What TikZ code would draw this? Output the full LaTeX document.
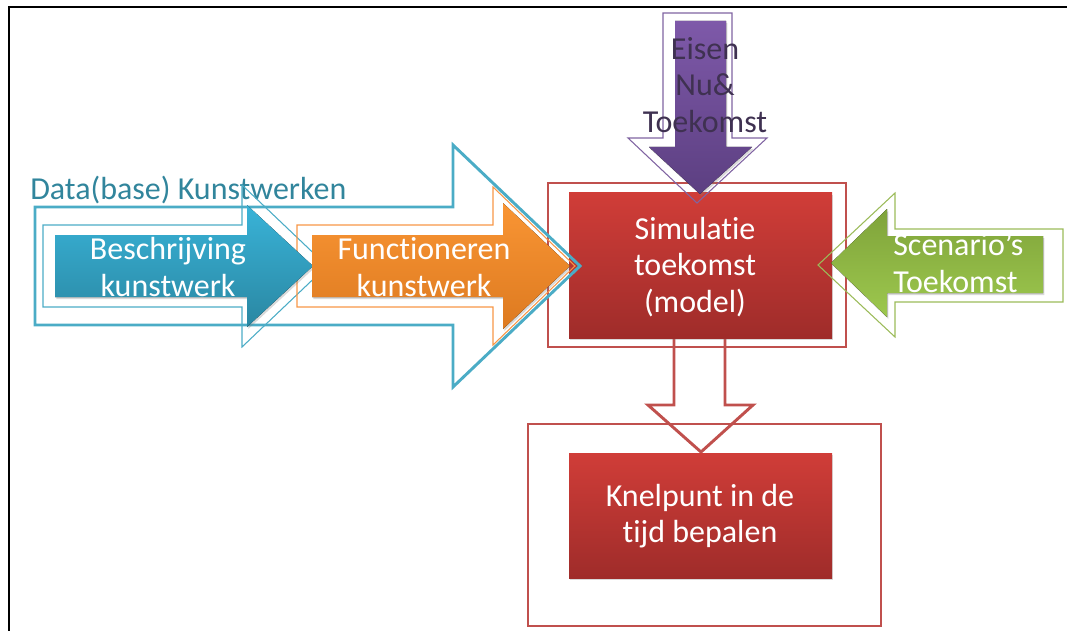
\documentclass[tikz,border=0pt]{standalone}
\usepackage{fontspec}
\setmainfont{Carlito}[Ligatures=NoCommon]
\usepackage{tikz}
\usetikzlibrary{shadows}
\definecolor{blueline}{HTML}{4BACC6}
\definecolor{bluetop}{HTML}{39B3D8}
\definecolor{bluebot}{HTML}{2A87A2}
\definecolor{bluetext}{HTML}{31859C}
\definecolor{orangeline}{HTML}{F79646}
\definecolor{orangetop}{HTML}{F99534}
\definecolor{orangebot}{HTML}{DD7A20}
\definecolor{redline}{HTML}{C0504D}
\definecolor{redtop}{HTML}{D03D38}
\definecolor{redbot}{HTML}{9F2C2A}
\definecolor{purpleline}{HTML}{8064A2}
\definecolor{purpletop}{HTML}{7E59A9}
\definecolor{purplebot}{HTML}{5C3F81}
\definecolor{purpletext}{HTML}{3F3151}
\definecolor{greenline}{HTML}{9BBB59}
\definecolor{greentop}{HTML}{7FA33A}
\definecolor{greenbot}{HTML}{9DC84E}

\begin{document}
\begin{tikzpicture}[x=0.75pt,y=-0.75pt,font=\fontsize{24}{27.5}\selectfont,
   shd/.style={drop shadow={shadow xshift=1pt,shadow yshift=-1.5pt,opacity=.3}},
   fillshape/.style={shd,top color=#1top,bottom color=#1bot,draw=none},
   thinout/.style={draw=#1line,line width=0.8pt},
   thickout/.style={draw=#1line,line width=2.2pt},
   lbl/.style={text=white,align=center,inner sep=0pt}]
  \useasboundingbox (0,0) rectangle (1067,631);
  \draw[line width=2pt] (9,632) -- (9,7) -- (1068,7);
  \draw[thickout=red] (674,330) -- (674,405) -- (648,405) -- (701,452) -- (753,405) -- (725,405) -- (725,330);
  \draw[thinout=red] (548,183) rectangle (846,347);
  \fill[fillshape=red] (569,193) rectangle (832,338);
  \draw[thinout=red] (528,424) rectangle (881,626);
  \fill[fillshape=red] (569,453) rectangle (832,578);
  \node[text=bluetext,anchor=west,inner sep=0pt] (dbase) at (30,190) {Data(base) Kunstwerken};
  \draw[thickout=blue] (35,207) -- (453,207) -- (453,145) -- (580,266) -- (453,387) -- (453,325) -- (35,325) -- cycle;
  \draw[thinout=blue] (43,225) -- (242,225) -- (242,185) -- (327,266) -- (242,347) -- (242,307) -- (43,307) -- cycle;
  \draw[thinout=orange] (297,225) -- (493,225) -- (493,187) -- (575,266) -- (493,345) -- (493,307) -- (297,307) -- cycle;
  \fill[fillshape=blue] (55,235) -- (247,235) -- (247,205) -- (313,266) -- (247,327) -- (247,297) -- (55,297) -- cycle;
  \fill[fillshape=orange] (312,235) -- (503,235) -- (503,203) -- (570,266) -- (503,329) -- (503,297) -- (312,297) -- cycle;
  \fill[fillshape=purple] (675,21) -- (726,21) -- (726,147) -- (752,147) -- (700,194) -- (649,147) -- (675,147) -- cycle;
  \draw[thinout=purple] (663,13) -- (732,13) -- (732,138) -- (767,138) -- (697,203) -- (628,138) -- (663,138) -- cycle;
  \fill[fillshape=green] (1043,236) -- (887,236) -- (887,209) -- (831,263) -- (887,317) -- (887,293) -- (1043,293) -- cycle;
  \draw[thinout=green] (1063,229) -- (895,229) -- (895,193) -- (818,265) -- (895,337) -- (895,302) -- (1063,302) -- cycle;
  \node[lbl] (beschr) at (168,267) {Beschrijving\\kunstwerk};
  \node[lbl] (funct) at (424,267) {Functioneren\\kunstwerk};
  \node[lbl] (simul) at (695,267) {Simulatie\\toekomst\\(model)};
  \node[lbl,text=purpletext] (eisen) at (705,85) {Eisen\\Nu\&\\Toekomst};
  \node[lbl,align=left,anchor=west] (scen) at (893,263) {Scenario’s\\Toekomst};
  \node[lbl] (knelp) at (700,516) {Knelpunt in de\\tijd bepalen};
\end{tikzpicture}
\end{document}
